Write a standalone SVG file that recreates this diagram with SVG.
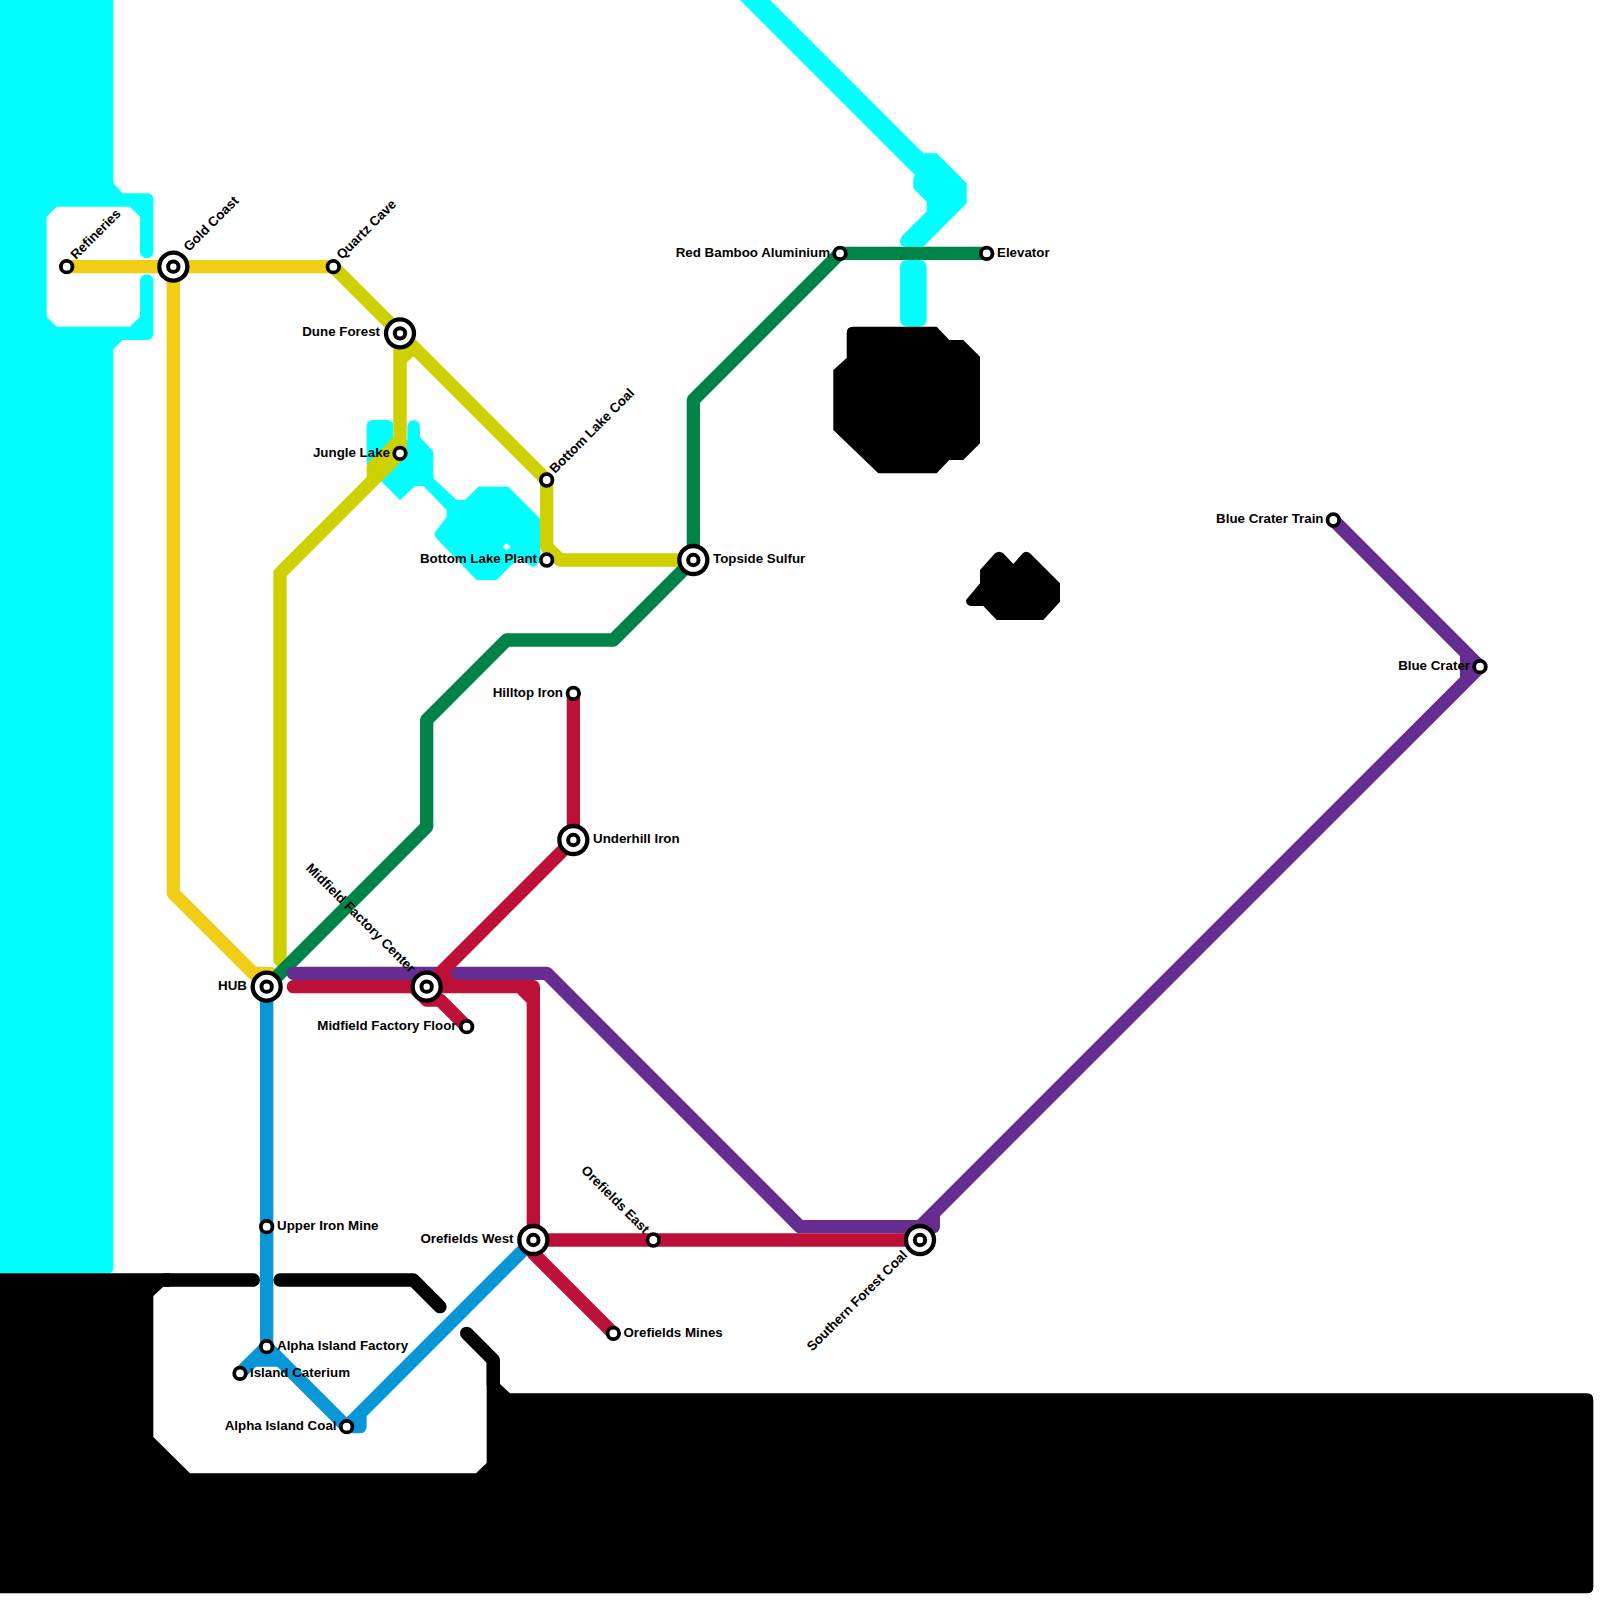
<svg xmlns="http://www.w3.org/2000/svg" width="1600" height="1600" viewBox="0 0 1600 1600">
<style>
.water{fill:#00ffff;stroke:none}
.land{fill:#000;stroke:none}
.landline{fill:none;stroke:#000;stroke-width:13.33;stroke-linecap:round;stroke-linejoin:round}
.line{fill:none;stroke-width:13.33;stroke-linecap:round;stroke-linejoin:round}
.gold{stroke:#f0ce15}.olive{stroke:#cfd000}.green{stroke:#008348}.blue{stroke:#0896d7}.red{stroke:#bd1038}.purple{stroke:#662c90}
.st{fill:#fff;stroke:#000;stroke-width:3.8}
.big{fill:#fff;stroke:#000;stroke-width:4.3}
.dot{fill:#fff;stroke:#000;stroke-width:4}
text{font-family:"Liberation Sans",Arial,sans-serif;font-size:13.33px;font-weight:bold;fill:#000}
.e{text-anchor:end}
</style>
<rect width="1600" height="1600" fill="#fff"/>
<g id="water">
<path class="water" d="M0,0H113.33V183.33L122.67,193.33H147Q153.33,193.33 153.33,200V251.67A6.67,6.67 0 0 1 140,251.67V216.67L130,206.67H56.67L46.67,216.67V316.67L56.67,326.67H130L140,316.67V280.67A6.67,6.67 0 0 1 153.33,280.67V333.33Q153.33,340 147,340H122.67L113.33,349V1268Q113.33,1273.33 108,1273.33H0Z"/>
<path class="water" d="M740,0H770L923.3,153.33H936.7L966.7,183.33V203.33L923.3,246.67H906Q900,246.67 900,241.5Q900,238 903,235L926.7,211.5V201.7L913.3,188.3V178L915,175Z"/>
<rect class="water" x="900" y="260" width="26.67" height="66.67" rx="7"/>
<path class="water" fill-rule="evenodd" d="M373,420H387Q393.33,420 393.33,426V440H407.33V426.67A6.33,6.33 0 0 1 420,426.67V436.67L433.33,451.67V478.33L456.67,500H465L478.33,486.67H508.33L540,518.67V560Q537,566.67 533,566.67Q530,566.67 520,556.67L496.67,580H476.67L436,538Q433.33,533.33 436,531L446.67,516.67V510L423.33,486H415L400,500L380,480V470H373Q366.67,470 366.67,460V426Q366.67,420 373,420ZM506.67,543L503,546.67L506.67,550.5L510.5,546.67Z"/>
</g>
<g id="land">
<path class="land" d="M0,1273.33H170V1286.67H163.33L153.33,1296V1437L190,1473.33H476L486.67,1463V1360H500V1384L510,1393.33H1587Q1593.33,1393.33 1593.33,1400V1587Q1593.33,1593.33 1587,1593.33H0Z"/>
<path class="landline" d="M165,1280H253.33M280,1280H413.33L440,1306.67M466.67,1333.33L493.33,1360V1385"/>
<path class="land" d="M853,326.67H936.7L949.3,340H963.3L980,356.7V443.3L963.3,460H949.3L936.7,473.3H878.3L833.3,430V370L846.7,358V333Q846.7,326.67 853,326.67Z"/>
<path class="land" d="M995,553.3Q999,550 1003.3,553.3L1013.3,564L1022.7,553.3Q1026,550 1030,553.3L1060,583.3V601.7L1043.3,620H996.7L983.3,606H972Q966,606 966,600L980,583.3V570Z"/>
</g>
<g id="connectors">
<path class="line gold" d="M66.67,266.67H333.33M173.33,266.67V893.33L253.33,973.33H270"/>
<path class="line olive" d="M333.33,266.67L546.67,480V546.67L560,560H693.33M400,333.33V453.33M400,360L413.33,346.67M400,453.33L280,573.33V960M400,440L373.33,466.67V480"/>
<path class="line green" d="M986.67,253.33H840L693.33,400V560L613.33,640H506.67L426.67,720V826.67L266.67,986.67"/>
<path class="line blue" d="M266.67,986.67V1346.67M240,1373.33L266.67,1346.67L346.67,1426.67H360V1413.33M346.67,1426.67L533.33,1240M253.33,1360H280"/>
<path class="line purple" d="M293.33,973.33H546.67L800,1226.67H933.33V1213.33M920,1226.67L1480,666.67L1333.33,520M1466.67,653.33V680"/>
<path class="line red" d="M573.33,693.33V840L426.67,986.67M440,973.33L453.33,986.67M293.33,986.67H533.33V1240M520,986.67L533.33,1000M466.67,1026.67L440,1000H426.67L413.33,986.67M533.33,1240H920M533.33,1240V1253.33L613.33,1333.33"/>
</g>
<g id="refineries"><circle class="st" cx="66.67" cy="266.67" r="5.8"/><text transform="translate(76,260) rotate(-45)">Refineries</text></g>
<g id="gold-coast"><circle class="big" cx="173.33" cy="266.67" r="14"/><circle class="dot" cx="173.33" cy="266.67" r="5.2"/><text transform="translate(189,252) rotate(-45)">Gold Coast</text></g>
<g id="quartz-cave"><circle class="st" cx="333.33" cy="266.67" r="5.8"/><text transform="translate(342,260) rotate(-45)">Quartz Cave</text></g>
<g id="dune-forest"><circle class="big" cx="400" cy="333.33" r="14"/><circle class="dot" cx="400" cy="333.33" r="5.2"/><text class="e" x="380" y="336">Dune Forest</text></g>
<g id="jungle-lake"><circle class="st" cx="400" cy="453.33" r="5.8"/><text class="e" x="390" y="456.5">Jungle Lake</text></g>
<g id="bottom-lake-coal"><circle class="st" cx="546.67" cy="480" r="5.8"/><text transform="translate(555,474) rotate(-45)">Bottom Lake Coal</text></g>
<g id="bottom-lake-plant"><circle class="st" cx="546.67" cy="560" r="5.8"/><text class="e" x="537" y="563">Bottom Lake Plant</text></g>
<g id="topside-sulfur"><circle class="big" cx="693.33" cy="560" r="14"/><circle class="dot" cx="693.33" cy="560" r="5.2"/><text x="713" y="563">Topside Sulfur</text></g>
<g id="red-bamboo"><circle class="st" cx="840" cy="253.33" r="5.8"/><text class="e" x="830" y="256.5">Red Bamboo Aluminium</text></g>
<g id="elevator"><circle class="st" cx="986.67" cy="253.33" r="5.8"/><text x="997" y="256.5">Elevator</text></g>
<g id="hilltop-iron"><circle class="st" cx="573.33" cy="693.33" r="5.8"/><text class="e" x="563" y="696.5">Hilltop Iron</text></g>
<g id="underhill-iron"><circle class="big" cx="573.33" cy="840" r="14"/><circle class="dot" cx="573.33" cy="840" r="5.2"/><text x="593" y="843">Underhill Iron</text></g>
<g id="hub"><circle class="big" cx="266.67" cy="986.67" r="14"/><circle class="dot" cx="266.67" cy="986.67" r="5.2"/><text class="e" x="247" y="989.5">HUB</text></g>
<g id="midfield-center"><circle class="big" cx="426.67" cy="986.67" r="14"/><circle class="dot" cx="426.67" cy="986.67" r="5.2"/><text class="e" transform="translate(410,973.5) rotate(45)">Midfield Factory Center</text></g>
<g id="midfield-floor"><circle class="st" cx="466.67" cy="1026.67" r="5.8"/><text class="e" x="456.5" y="1029.5">Midfield Factory Floor</text></g>
<g id="orefields-west"><circle class="big" cx="533.33" cy="1240" r="14"/><circle class="dot" cx="533.33" cy="1240" r="5.2"/><text class="e" x="513.5" y="1243">Orefields West</text></g>
<g id="orefields-east"><circle class="st" cx="653.33" cy="1240" r="5.8"/><text class="e" transform="translate(644,1234.5) rotate(45)">Orefields East</text></g>
<g id="orefields-mines"><circle class="st" cx="613.33" cy="1333.33" r="5.8"/><text x="623.5" y="1336.5">Orefields Mines</text></g>
<g id="southern-forest-coal"><circle class="big" cx="920" cy="1240" r="14"/><circle class="dot" cx="920" cy="1240" r="5.2"/><text class="e" transform="translate(908,1256) rotate(-45)">Southern Forest Coal</text></g>
<g id="upper-iron-mine"><circle class="st" cx="266.67" cy="1226.67" r="5.8"/><text x="277" y="1229.5">Upper Iron Mine</text></g>
<g id="alpha-island-factory"><circle class="st" cx="266.67" cy="1346.67" r="5.8"/><text x="277" y="1349.5">Alpha Island Factory</text></g>
<g id="island-caterium"><circle class="st" cx="240" cy="1373.33" r="5.8"/><text x="250" y="1376.5">Island Caterium</text></g>
<g id="alpha-island-coal"><circle class="st" cx="346.67" cy="1426.67" r="5.8"/><text class="e" x="336.5" y="1429.5">Alpha Island Coal</text></g>
<g id="blue-crater-train"><circle class="st" cx="1333.33" cy="520" r="5.8"/><text class="e" x="1323.5" y="523">Blue Crater Train</text></g>
<g id="blue-crater"><circle class="st" cx="1480" cy="666.67" r="5.8"/><text class="e" x="1470" y="669.5">Blue Crater</text></g>
</svg>
